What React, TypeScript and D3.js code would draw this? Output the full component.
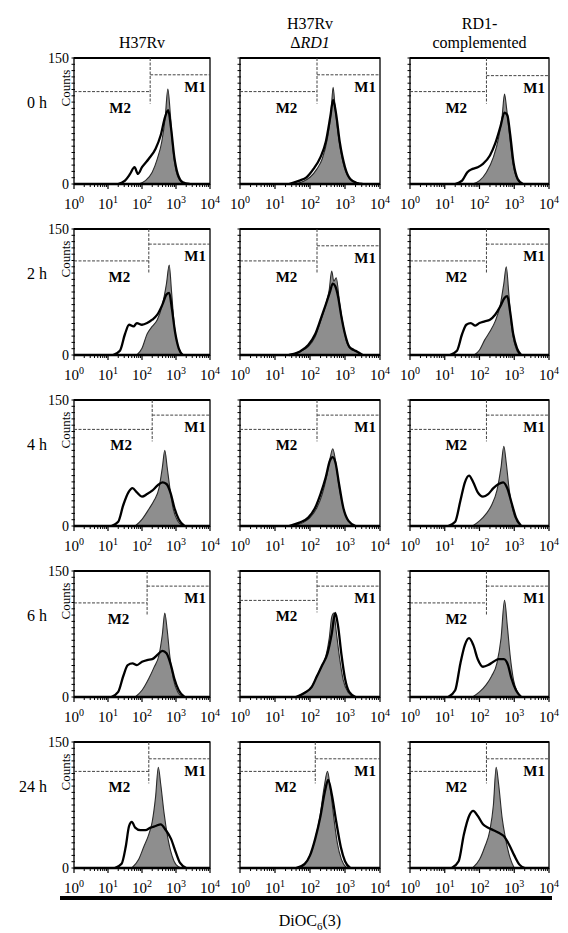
import React from 'react';
import * as d3 from 'd3';

type Pt = [number, number];

// ---------- labels ----------
const timepoints = ['0 h', '2 h', '4 h', '6 h', '24 h'];
const colTitles = [['H37Rv'], ['H37Rv', 'ΔRD1'], ['RD1-', 'complemented']];
const decadeTicks = [0, 1, 2, 3, 4];
const countTicks = [0, 150];
const xAxisTitle = 'DiOC';

// ---------- gates (M1 level, M2 level in counts; gate position as log10) ----------
const m1Level = [
  [130, 130, 129],
  [132, 130, 132],
  [132, 132, 132],
  [132, 132, 132],
  [130, 130, 130],
];
const m2Level = [
  [110, 110, 110],
  [112, 112, 112],
  [115, 115, 115],
  [112, 115, 112],
  [115, 115, 115],
];
const gateLog = [
  [2.24, 2.2, 2.2],
  [2.2, 2.2, 2.2],
  [2.3, 2.2, 2.2],
  [2.15, 2.2, 2.2],
  [2.2, 2.15, 2.2],
];

// ---------- histograms: [log10 intensity, counts] ----------
// 0 h
const fill0_a: Pt[] = [[1.9,0],[2.1,4],[2.3,14],[2.45,30],[2.58,50],[2.68,78],[2.76,113],[2.83,85],[2.9,45],[3.0,16],[3.12,4],[3.25,0]];
const line0_a: Pt[] = [[1.3,0],[1.5,4],[1.65,12],[1.78,20],[1.88,12],[2.0,20],[2.2,30],[2.4,42],[2.55,58],[2.68,80],[2.77,88],[2.85,68],[2.95,32],[3.05,12],[3.2,2],[3.4,0]];
const fill0_b: Pt[] = [[1.5,0],[1.8,3],[2.0,8],[2.2,18],[2.35,30],[2.5,55],[2.6,85],[2.66,115],[2.72,90],[2.82,55],[2.95,25],[3.1,8],[3.3,2],[3.45,0]];
const line0_b: Pt[] = [[1.4,0],[1.7,4],[1.9,8],[2.1,18],[2.3,32],[2.45,50],[2.58,80],[2.66,100],[2.74,85],[2.85,50],[3.0,20],[3.15,6],[3.35,1],[3.5,0]];
const fill0_c: Pt[] = [[1.8,0],[2.0,4],[2.2,14],[2.4,32],[2.55,55],[2.65,80],[2.72,107],[2.78,90],[2.86,60],[2.96,25],[3.08,6],[3.2,0]];
const line0_c: Pt[] = [[1.3,0],[1.5,4],[1.65,14],[1.8,18],[1.95,20],[2.1,24],[2.3,34],[2.45,48],[2.6,68],[2.72,85],[2.8,82],[2.88,60],[2.98,25],[3.1,6],[3.25,0]];
// 2 h
const fill2_a: Pt[] = [[1.85,0],[2.0,8],[2.15,25],[2.3,34],[2.45,42],[2.6,60],[2.72,85],[2.8,107],[2.87,75],[2.95,35],[3.05,12],[3.2,0]];
const line2_a: Pt[] = [[1.15,0],[1.35,5],[1.5,25],[1.62,36],[1.75,34],[1.85,38],[2.0,36],[2.15,38],[2.3,42],[2.45,48],[2.6,60],[2.72,72],[2.8,74],[2.88,55],[2.97,28],[3.08,8],[3.2,0]];
const fill2_b: Pt[] = [[1.4,0],[1.7,4],[1.95,10],[2.15,22],[2.3,40],[2.45,60],[2.55,78],[2.62,100],[2.68,88],[2.75,92],[2.85,60],[2.95,35],[3.05,15],[3.2,6],[3.3,5],[3.45,0]];
const line2_b: Pt[] = [[1.4,0],[1.7,4],[1.95,12],[2.15,25],[2.3,42],[2.45,60],[2.57,75],[2.65,85],[2.72,82],[2.8,70],[2.9,45],[3.0,25],[3.12,10],[3.25,6],[3.35,4],[3.5,0]];
const fill2_c: Pt[] = [[1.85,0],[2.0,6],[2.15,18],[2.3,28],[2.45,40],[2.6,60],[2.7,85],[2.77,105],[2.84,75],[2.92,35],[3.02,12],[3.15,0]];
const line2_c: Pt[] = [[1.15,0],[1.35,5],[1.5,25],[1.62,36],[1.75,38],[1.88,35],[2.0,38],[2.15,40],[2.3,42],[2.45,48],[2.6,58],[2.72,68],[2.8,70],[2.88,52],[2.97,25],[3.08,8],[3.2,0]];
// 4 h
const fill4_a: Pt[] = [[1.8,0],[2.0,8],[2.2,20],[2.35,30],[2.5,45],[2.6,70],[2.67,90],[2.74,70],[2.82,45],[2.92,20],[3.05,6],[3.2,0]];
const line4_a: Pt[] = [[1.1,0],[1.3,5],[1.45,25],[1.6,40],[1.72,45],[1.85,40],[2.0,35],[2.15,38],[2.3,42],[2.45,48],[2.6,52],[2.72,50],[2.85,38],[2.95,22],[3.08,8],[3.25,0]];
const fill4_b: Pt[] = [[1.5,0],[1.8,4],[2.0,10],[2.2,22],[2.35,38],[2.48,60],[2.58,82],[2.65,92],[2.72,80],[2.82,50],[2.95,22],[3.1,6],[3.3,0]];
const line4_b: Pt[] = [[1.4,0],[1.7,4],[1.95,10],[2.15,22],[2.3,38],[2.45,58],[2.57,78],[2.65,82],[2.73,75],[2.83,50],[2.95,22],[3.1,6],[3.3,0]];
const fill4_c: Pt[] = [[1.8,0],[2.0,6],[2.2,15],[2.35,25],[2.5,42],[2.62,70],[2.7,95],[2.77,75],[2.85,45],[2.95,20],[3.08,5],[3.2,0]];
const line4_c: Pt[] = [[1.1,0],[1.3,5],[1.45,30],[1.58,52],[1.7,60],[1.82,52],[1.95,40],[2.1,35],[2.25,38],[2.4,45],[2.55,50],[2.68,52],[2.8,45],[2.92,28],[3.05,10],[3.2,0]];
// 6 h
const fill6_a: Pt[] = [[1.8,0],[2.0,8],[2.2,22],[2.35,35],[2.5,50],[2.6,75],[2.67,100],[2.74,80],[2.82,48],[2.92,22],[3.05,6],[3.2,0]];
const line6_a: Pt[] = [[1.1,0],[1.3,6],[1.45,25],[1.58,38],[1.72,40],[1.85,38],[2.0,42],[2.15,44],[2.3,45],[2.45,50],[2.6,55],[2.72,52],[2.85,38],[2.95,22],[3.08,8],[3.25,0]];
const fill6_b: Pt[] = [[1.6,0],[1.85,5],[2.05,12],[2.2,25],[2.35,38],[2.45,48],[2.55,70],[2.62,95],[2.68,100],[2.75,78],[2.85,45],[2.95,20],[3.1,5],[3.25,0]];
const line6_b: Pt[] = [[1.6,0],[1.85,5],[2.05,12],[2.2,25],[2.35,38],[2.5,52],[2.62,75],[2.72,100],[2.8,85],[2.9,50],[3.0,22],[3.12,6],[3.3,0]];
const fill6_c: Pt[] = [[1.8,0],[2.0,6],[2.2,15],[2.35,25],[2.5,40],[2.62,70],[2.72,115],[2.8,85],[2.88,50],[2.98,20],[3.1,5],[3.22,0]];
const line6_c: Pt[] = [[1.1,0],[1.3,8],[1.45,40],[1.58,62],[1.7,70],[1.82,62],[1.95,45],[2.1,36],[2.25,38],[2.4,42],[2.55,45],[2.7,45],[2.82,38],[2.92,22],[3.05,8],[3.2,0]];
// 24 h
const fill24_a: Pt[] = [[1.7,0],[1.9,10],[2.05,25],[2.2,40],[2.3,55],[2.4,85],[2.48,120],[2.55,100],[2.65,65],[2.75,38],[2.88,15],[3.0,4],[3.15,0]];
const line24_a: Pt[] = [[1.2,0],[1.4,5],[1.52,25],[1.62,50],[1.7,55],[1.8,48],[1.95,45],[2.1,45],[2.25,48],[2.4,50],[2.55,52],[2.7,45],[2.85,35],[3.0,18],[3.12,6],[3.3,0]];
const fill24_b: Pt[] = [[1.6,0],[1.85,5],[2.0,15],[2.15,35],[2.28,60],[2.4,95],[2.5,115],[2.58,95],[2.68,60],[2.78,30],[2.9,10],[3.05,0]];
const line24_b: Pt[] = [[1.6,0],[1.85,5],[2.0,15],[2.15,35],[2.3,62],[2.42,90],[2.52,105],[2.62,88],[2.75,55],[2.88,25],[3.0,8],[3.15,0]];
const fill24_c: Pt[] = [[1.8,0],[2.0,10],[2.15,25],[2.3,45],[2.4,75],[2.48,120],[2.55,100],[2.65,60],[2.75,35],[2.88,12],[3.0,0]];
const line24_c: Pt[] = [[1.2,0],[1.4,8],[1.55,40],[1.7,62],[1.82,68],[1.95,62],[2.1,52],[2.25,48],[2.4,45],[2.55,42],[2.7,38],[2.85,28],[3.0,15],[3.15,4],[3.3,0]];

const fills: Pt[][][] = [
  [fill0_a, fill0_b, fill0_c],
  [fill2_a, fill2_b, fill2_c],
  [fill4_a, fill4_b, fill4_c],
  [fill6_a, fill6_b, fill6_c],
  [fill24_a, fill24_b, fill24_c],
];
const lines: Pt[][][] = [
  [line0_a, line0_b, line0_c],
  [line2_a, line2_b, line2_c],
  [line4_a, line4_b, line4_c],
  [line6_a, line6_b, line6_c],
  [line24_a, line24_b, line24_c],
];

// ---------- layout ----------
const W = 568;
const H = 933;
const colLeft = [74, 240, 410];
const colWidth = [136, 140, 139];
const rowTop = [58, 229, 400, 571, 742];
const panelH = 126;
const FONT = 'Liberation Serif, Times New Roman, Times, serif';
const minorMult = [2, 3, 4, 5, 6, 7, 8, 9];

function Panel({ r, c }: { r: number; c: number }) {
  const left = colLeft[c];
  const w = colWidth[c];
  const top = rowTop[r];
  const bottom = top + panelH;
  const x = d3.scaleLog().domain([1, 1e4]).range([left, left + w]);
  const y = d3.scaleLinear().domain([0, 150]).range([bottom, top]);
  const area = d3
    .area<Pt>()
    .x((d) => x(Math.pow(10, d[0])))
    .y0(y(0))
    .y1((d) => y(d[1]))
    .curve(d3.curveMonotoneX);
  const line = d3
    .line<Pt>()
    .x((d) => x(Math.pow(10, d[0])))
    .y((d) => y(d[1]))
    .curve(d3.curveMonotoneX);

  const gx = x(Math.pow(10, gateLog[r][c]));
  const m1y = y(m1Level[r][c]);
  const m2y = y(m2Level[r][c]);

  const minors: number[] = [];
  for (let e = 0; e < 4; e++) minorMult.forEach((m) => minors.push(m * Math.pow(10, e)));
  const yMinor = d3.range(0, 151, 7.5);

  return (
    <g>
      <path d={area(fills[r][c]) || ''} fill="#8e8e8e" stroke="#2a2a2a" strokeWidth={1.1} />
      <path d={line(lines[r][c]) || ''} fill="none" stroke="#000" strokeWidth={2.3} strokeLinejoin="round" />
      {/* frame */}
      <rect x={left} y={top} width={w} height={panelH} fill="none" stroke="#000" strokeWidth={1.3} />
      <line x1={left} x2={left + w} y1={bottom} y2={bottom} stroke="#000" strokeWidth={2.6} />
      <line x1={left} x2={left + w} y1={top} y2={top} stroke="#000" strokeWidth={2} />
      {/* y minor ticks */}
      {yMinor.map((v, i) => (
        <line key={'ym' + i} x1={left - 2.5} x2={left + 1} y1={y(v)} y2={y(v)} stroke="#000" strokeWidth={1} />
      ))}
      {/* x ticks */}
      {minors.map((v, i) => (
        <line key={'xm' + i} x1={x(v)} x2={x(v)} y1={bottom} y2={bottom + 3} stroke="#000" strokeWidth={1} />
      ))}
      {decadeTicks.map((e) => (
        <line key={'xM' + e} x1={x(Math.pow(10, e))} x2={x(Math.pow(10, e))} y1={bottom} y2={bottom + 5} stroke="#000" strokeWidth={1.2} />
      ))}
      {decadeTicks.map((e) => (
        <text key={'xl' + e} x={x(Math.pow(10, e))} y={bottom + 25} textAnchor="middle" style={{ fontFamily: FONT }} fontSize={15} fill="#000">
          10<tspan dy={-6} fontSize={10}>{e}</tspan>
        </text>
      ))}
      {/* gates */}
      <g stroke="#444" strokeWidth={1} strokeDasharray="3 1.5" fill="none">
        <line x1={left} x2={gx} y1={m2y} y2={m2y} />
        <line x1={gx} x2={left + w} y1={m1y} y2={m1y} />
        <line x1={gx} x2={gx} y1={top} y2={m2y + 12} />
      </g>
      <text x={left + w - 4} y={m1y + 17} textAnchor="end" style={{ fontFamily: FONT }} fontSize={15} fontWeight="bold" fill="#000">M1</text>
      <text x={(left + gx) / 2 + 8} y={m2y + 21} textAnchor="middle" style={{ fontFamily: FONT }} fontSize={15} fontWeight="bold" fill="#000">M2</text>
      {c === 0 && (
        <g style={{ fontFamily: FONT }} fill="#000">
          {countTicks.map((v) => (
            <text key={'yl' + v} x={left - 5} y={y(v) + 5} textAnchor="end" fontSize={14}>{v}</text>
          ))}
          <text transform={`translate(${left - 4},${top + 30}) rotate(-90)`} textAnchor="middle" fontSize={13}>Counts</text>
        </g>
      )}
    </g>
  );
}

export default function App() {
  const cols = [0, 1, 2];
  const colCenter = cols.map((c) => colLeft[c] + colWidth[c] / 2);
  return (
    <svg width={W} height={H} style={{ position: 'absolute', left: 0, top: 0, background: '#fff' }}>
      <rect width={W} height={H} fill="#fff" />
      {/* column titles */}
      {colTitles.map((lines, c) => (
        <g key={'ct' + c} style={{ fontFamily: FONT }} fontSize={16} fill="#000" textAnchor="middle">
          {lines.map((t, i) => {
            const yy = 48 - (lines.length - 1 - i) * 19;
            if (t.startsWith('Δ')) {
              return (
                <text key={i} x={colCenter[c]} y={yy}>
                  Δ<tspan fontStyle="italic">{t.slice(1)}</tspan>
                </text>
              );
            }
            return (
              <text key={i} x={colCenter[c]} y={yy}>{t}</text>
            );
          })}
        </g>
      ))}
      {/* row labels */}
      {timepoints.map((t, r) => (
        <text key={'rl' + r} x={47} y={rowTop[r] + 50} textAnchor="end" style={{ fontFamily: FONT }} fontSize={16} fill="#000">{t}</text>
      ))}
      {timepoints.map((_, r) => cols.map((c) => <Panel key={r + '-' + c} r={r} c={c} />))}
      {/* bottom bar and title */}
      <line x1={60} x2={552} y1={898} y2={898} stroke="#000" strokeWidth={4} />
      <text x={310} y={926} textAnchor="middle" style={{ fontFamily: FONT }} fontSize={16} fill="#000">
        {xAxisTitle}<tspan dy={4} fontSize={11}>6</tspan><tspan dy={-4}>(3)</tspan>
      </text>
    </svg>
  );
}
